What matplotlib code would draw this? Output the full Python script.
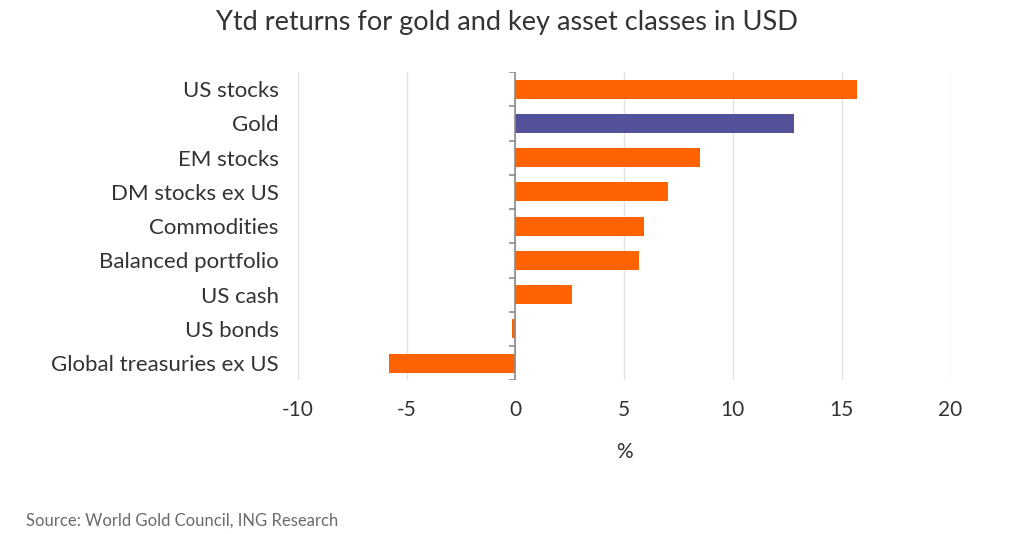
import numpy as np
import matplotlib.pyplot as plt

plt.rcParams['font.family'] = ['Lato', 'DejaVu Sans']
plt.rcParams['axes.unicode_minus'] = False

# Data (top to bottom)
categories = ["US stocks", "Gold", "EM stocks", "DM stocks ex US", "Commodities",
              "Balanced portfolio", "US cash", "US bonds", "Global treasuries ex US"]
returns = [15.7, 12.8, 8.5, 7.0, 5.9, 5.7, 2.6, -0.15, -5.8]
highlight = "Gold"

orange = "#FF6200"
purple = "#525199"

fig = plt.figure(figsize=(10.24, 5.34), dpi=100)
ax = fig.add_axes([0.291, 0.288, 0.637, 0.577])

y = np.arange(len(categories))
colors = [purple if c == highlight else orange for c in categories]
ax.barh(y, returns, height=0.56, color=colors, zorder=3)

ax.set_ylim(len(categories) - 0.5, -0.5)
ax.set_xlim(-10, 20)
ax.set_xticks(np.arange(-10, 21, 5))
ax.set_yticks(y)
ax.set_yticklabels(categories)
ax.tick_params(axis='both', length=0, labelcolor="#333333")
ax.tick_params(axis='y', pad=14, labelsize=16)
ax.tick_params(axis='x', pad=14, labelsize=15)

for s in ax.spines.values():
    s.set_visible(False)
ax.grid(axis='x', color="#e2e2e2", linewidth=1, zorder=0)

# zero axis line with category separator ticks
ax.axvline(0, color="#8c8c8c", linewidth=1.2, zorder=4)
bounds = np.arange(-0.5, len(categories), 1.0)
ax.hlines(bounds, -0.28, 0, color="#8c8c8c", linewidth=1.2, zorder=4)

ax.set_xlabel("%", fontsize=15, color="#333333", labelpad=16)

fig.text(0.495, 0.958, "Ytd returns for gold and key asset classes in USD",
         ha='center', va='center', fontsize=19.5, color="#333333")
fig.text(0.025, 0.025, "Source: World Gold Council, ING Research",
         ha='left', va='center', fontsize=12, color="#6b6b6b")

fig.savefig("out.png", dpi=100)
